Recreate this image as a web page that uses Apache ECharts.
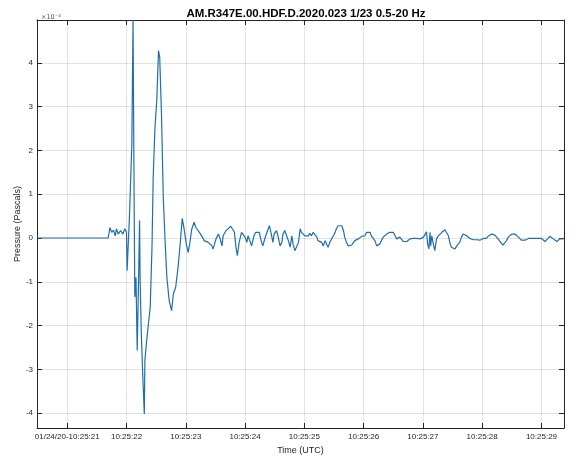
<!DOCTYPE html>
<html>
<head>
<meta charset="utf-8">
<title>AM.R347E.00.HDF pressure</title>
<script src="https://cdn.jsdelivr.net/npm/echarts@6/dist/echarts.min.js"></script>
<style>
html, body { margin: 0; padding: 0; background: #fff; }
#chart { width: 573px; height: 456px; }
</style>
</head>
<body>
<div id="chart"></div>
<script>
// seconds after 10:25:00 UTC
const timeSec = [
    20.49, 21.69, 21.72, 21.75, 21.78, 21.81, 21.83, 21.86, 21.90, 21.94, 21.97, 22.00,
    22.01, 22.05, 22.09, 22.11, 22.13, 22.14, 22.16, 22.18, 22.20, 22.22, 22.23, 22.25,
    22.27, 22.30, 22.31, 22.34, 22.37, 22.40, 22.43, 22.45, 22.48, 22.51, 22.54, 22.56,
    22.59, 22.62, 22.65, 22.68, 22.72, 22.76, 22.79, 22.83, 22.87, 22.91, 22.94, 22.97,
    23.01, 23.04, 23.07, 23.10, 23.14, 23.17, 23.19, 23.23, 23.25, 23.28, 23.31, 23.34,
    23.38, 23.41, 23.44, 23.46, 23.51, 23.55, 23.58, 23.61, 23.63, 23.68, 23.72, 23.76,
    23.79, 23.82, 23.85, 23.87, 23.90, 23.94, 23.97, 24.00, 24.03, 24.05, 24.08, 24.11,
    24.15, 24.18, 24.21, 24.24, 24.27, 24.30, 24.34, 24.37, 24.41, 24.43, 24.47, 24.49,
    24.53, 24.56, 24.59, 24.62, 24.64, 24.67, 24.70, 24.73, 24.76, 24.79, 24.81, 24.84,
    24.87, 24.90, 24.93, 24.95, 24.98, 25.01, 25.04, 25.07, 25.09, 25.12, 25.15, 25.18,
    25.21, 25.23, 25.26, 25.29, 25.32, 25.35, 25.38, 25.40, 25.43, 25.46, 25.49, 25.52,
    25.54, 25.57, 25.60, 25.63, 25.66, 25.68, 25.71, 25.74, 25.77, 25.80, 25.82, 25.85,
    25.88, 25.91, 25.94, 25.97, 25.99, 26.02, 26.05, 26.08, 26.11, 26.13, 26.16, 26.19,
    26.22, 26.25, 26.27, 26.30, 26.33, 26.36, 26.39, 26.41, 26.44, 26.47, 26.50, 26.53,
    26.56, 26.58, 26.61, 26.64, 26.67, 26.70, 26.73, 26.75, 26.78, 26.81, 26.84, 26.87,
    26.89, 26.92, 26.95, 26.98, 27.01, 27.03, 27.06, 27.08, 27.10, 27.12, 27.13, 27.15,
    27.17, 27.20, 27.23, 27.26, 27.29, 27.32, 27.34, 27.37, 27.40, 27.43, 27.46, 27.48,
    27.51, 27.54, 27.57, 27.60, 27.62, 27.65, 27.68, 27.71, 27.74, 27.76, 27.79, 27.82,
    27.85, 27.88, 27.90, 27.93, 27.96, 27.99, 28.02, 28.05, 28.07, 28.10, 28.13, 28.16,
    28.19, 28.21, 28.24, 28.27, 28.30, 28.33, 28.35, 28.38, 28.41, 28.44, 28.47, 28.50,
    28.52, 28.55, 28.58, 28.61, 28.64, 28.66, 28.69, 28.72, 28.75, 28.78, 28.80, 28.83,
    28.86, 28.89, 28.92, 28.94, 28.97, 29.00, 29.03, 29.06, 29.09, 29.11, 29.14, 29.17,
    29.20, 29.23, 29.26, 29.28, 29.31, 29.34, 29.37
];
// pressure in units of 1e-3 Pa
const pressure = [
    0, 0, 0.24, 0.13, 0.18, 0.05, 0.21, 0.09, 0.17, 0.09, 0.21, 0.13,
    -0.75, 0.50, 2.15, 4.98, 0.60, -1.35, -0.90, -2.57, -1.20, 0.40, -1.00, -2.19,
    -3.00, -4.02, -2.80, -2.34, -1.96, -1.58, -0.20, 1.39, 2.53, 3.13, 4.28, 4.13,
    2.83, 0.93, -0.04, -0.89, -1.43, -1.66, -1.28, -1.12, -0.66, -0.06, 0.45, 0.22,
    -0.15, -0.33, -0.10, 0.20, 0.36, 0.24, 0.28, 0.13, 0.17, 0.02, -0.06, -0.02,
    -0.10, -0.06, -0.18, -0.25, -0.02, 0.09, -0.02, -0.18, 0.05, 0.17, 0.22, 0.27,
    0.30, 0.13, -0.25, -0.40, -0.10, 0.13, 0.17, 0.02, -0.10, 0.05, 0.02, -0.18,
    0.05, 0.13, 0.09, 0.13, -0.06, -0.18, 0.02, 0.13, 0.28, 0.17, -0.10, 0.09,
    0.17, 0.02, -0.18, -0.10, 0.09, 0.17, 0.13, -0.06, -0.21, 0.05, -0.14, -0.29,
    -0.33, -0.10, 0.21, 0.13, 0.09, 0.05, 0.09, 0.05, 0.11, 0.05, 0.13, 0.09,
    0.02, -0.06, -0.02, -0.10, -0.18, -0.06, -0.10, -0.21, -0.10, -0.02, 0.05, 0.13,
    0.21, 0.28, 0.32, 0.28, 0.17, 0.02, -0.10, -0.18, -0.18, -0.16, -0.14, -0.06,
    -0.08, -0.02, -0.01, 0.04, 0.07, 0.05, 0.13, 0.11, 0.13, 0.05, 0.02, -0.06,
    -0.18, -0.21, -0.14, -0.06, 0.02, 0.05, 0.09, 0.13, 0.13, 0.09, 0.13, 0.05,
    -0.02, 0.02, 0.02, -0.02, -0.08, -0.10, -0.08, -0.06, -0.02, 0.02, -0.01, -0.02,
    -0.01, -0.04, -0.02, -0.02, 0.02, 0.05, 0.14, -0.14, -0.25, 0.13, -0.18, 0.05,
    -0.10, -0.29, -0.02, 0.05, 0.05, 0.13, 0.17, 0.19, 0.17, 0.05, -0.14, -0.21,
    -0.18, -0.25, -0.18, -0.21, -0.10, 0.02, 0.09, 0.11, 0.05, 0.02, -0.01, -0.02,
    -0.04, -0.02, -0.04, -0.02, -0.05, -0.02, -0.01, -0.04, -0.01, 0.04, 0.07, 0.09,
    0.09, 0.07, 0.04, -0.02, -0.08, -0.12, -0.16, -0.14, -0.06, 0.02, 0.05, 0.09,
    0.11, 0.09, 0.05, 0.02, -0.02, -0.05, -0.02, -0.05, -0.02, -0.01, -0.02, -0.01,
    -0.02, -0.01, 0.02, -0.01, -0.02, -0.01, -0.04, -0.08, -0.04, -0.01, 0.04, 0.02,
    -0.02, -0.04, -0.08, -0.06, -0.02, -0.04, -0.02
];
const xRange = [20.49, 29.38];
const yRange = [-4.34, 4.98];
const datePrefix = '01/24/20-';
const firstTickSec = 21;

const axisColor = '#262626';
const gridColor = 'rgba(38,38,38,0.13)';
const font = 'Liberation Sans, Arial, sans-serif';

let chart = echarts.init(document.getElementById('chart'), null, { renderer: 'canvas' });

const timeLabel = (v) => {
    const s = Math.round(v);
    const txt = '10:25:' + (s < 10 ? '0' + s : s);
    return s === firstTickSec ? datePrefix + txt : txt;
}

// shared settings for the frame axes (top / right copies carry only ticks)
const frameAxis = (extra) => Object.assign({
    type: 'value',
    splitNumber: 9,
    minInterval: 1,
    maxInterval: 1,
    axisLine: { show: true, onZero: false, lineStyle: { color: axisColor, width: 1 } },
    axisTick: { show: true, inside: true, length: 5, lineStyle: { color: axisColor, width: 1 } },
    axisLabel: { show: false },
    splitLine: { show: false }
}, extra);

const option = {
    animation: false,
    backgroundColor: '#fff',
    title: [
        {
            text: 'AM.R347E.00.HDF.D.2020.023 1/23 0.5-20 Hz',
            left: 301,
            top: 3,
            textAlign: 'center',
            textStyle: { fontFamily: font, fontSize: 11.5, fontWeight: 'bold', color: '#000' }
        },
        {
            text: '\u00d710\u207b\u00b3',
            left: 36,
            top: 9,
            textStyle: { fontFamily: 'DejaVu Sans', fontSize: 6.5, fontWeight: 'normal', color: '#555' }
        }
    ],
    grid: { left: 37, right: 9, top: 20, bottom: 28, outerBoundsMode: 'none', containLabel: false },
    xAxis: [
        frameAxis({
            min: xRange[0],
            max: xRange[1],
            position: 'bottom',
            name: 'Time (UTC)',
            nameLocation: 'middle',
            nameGap: 14,
            nameTextStyle: { fontFamily: font, fontSize: 9, color: axisColor },
            axisLabel: {
                show: true,
                showMinLabel: false,
                showMaxLabel: false,
                margin: 5,
                fontFamily: font,
                fontSize: 8,
                color: axisColor,
                formatter: timeLabel
            },
            splitLine: { show: true, lineStyle: { color: gridColor, width: 1 } }
        }),
        frameAxis({ min: xRange[0], max: xRange[1], position: 'top' })
    ],
    yAxis: [
        frameAxis({
            min: yRange[0],
            max: yRange[1],
            position: 'left',
            name: 'Pressure (Pascals)',
            nameLocation: 'middle',
            nameGap: 15,
            nameMoveOverlap: false,
            nameTextStyle: { fontFamily: font, fontSize: 9, color: axisColor },
            axisLabel: {
                show: true,
                showMinLabel: false,
                showMaxLabel: false,
                margin: 4,
                fontFamily: font,
                fontSize: 8,
                color: axisColor
            },
            splitLine: { show: true, lineStyle: { color: gridColor, width: 1 } }
        }),
        frameAxis({ min: yRange[0], max: yRange[1], position: 'right' })
    ],
    series: [
        {
            type: 'line',
            xAxisIndex: 0,
            yAxisIndex: 0,
            data: timeSec.map((t, i) => [t, pressure[i]]),
            showSymbol: false,
            symbol: 'none',
            clip: true,
            lineStyle: { color: '#1f6fae', width: 1.2 },
            emphasis: { disabled: true }
        }
    ]
};
chart.setOption(option);
</script>
</body>
</html>
